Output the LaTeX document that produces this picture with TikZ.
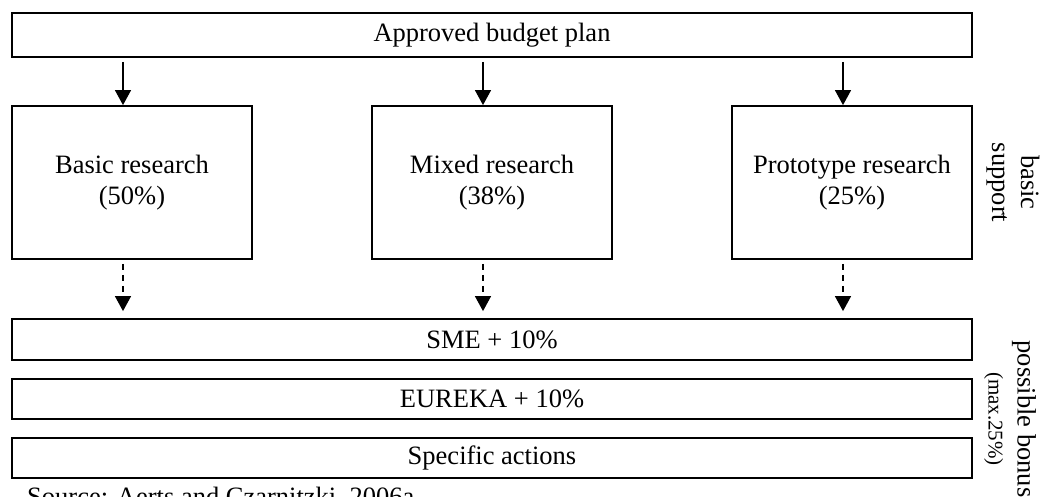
\documentclass[tikz,border=0pt]{standalone}
\usepackage{fontspec}
\setmainfont{Liberation Serif}
\usetikzlibrary{arrows.meta,calc}
\begin{document}
\begin{tikzpicture}[x=1pt,y=-1pt,
  box/.style={draw,line width=1.8pt,inner sep=0pt,align=center,
    font=\fontsize{26.5}{31}\selectfont},
  wide/.style={box,minimum width=960pt,minimum height=40pt},
  tall/.style={box,minimum width=240pt,minimum height=153pt},
  solidarr/.style={line width=1.3pt,-{Triangle[width=16pt,length=15pt]}},
  dasharr/.style={line width=1.3pt,dash pattern=on 6pt off 5pt,-{Triangle[width=16pt,length=15pt]}},
  side/.style={rotate=-90,align=center,inner sep=0pt,font=\fontsize{26.5}{29}\selectfont}]
\useasboundingbox (0,0) rectangle (1042,497);
\node[wide,minimum height=44pt] (top) at (492,35) {Approved budget plan};
\node[tall] (basic) at (132,182.5) {Basic research\\(50\%)};
\node[tall] (mixed) at (492,182.5) {Mixed research\\(38\%)};
\node[tall] (proto) at (852,182.5) {Prototype research\\(25\%)};
\node[wide,minimum height=41pt] (sme) at (492,339.5) {SME + 10\%};
\node[wide] (eureka) at (492,399) {EUREKA + 10\%};
\node[wide] (spec) at (492,458) {Specific actions};
\foreach \b in {basic,mixed,proto}{
  \draw[solidarr] ($(top.south -| \b.north)+(-9,4)$) -- ($(\b.north)+(-9,0)$);
  \draw[dasharr] ($(\b.south)+(-9,4)$) -- ($(sme.north -| \b.north)+(-9,-7)$);
}
\node[side] (bs) at (1013,182.5) {basic\\support};
\node[side] (pb) at (1010,419) {possible bonus\\{\fontsize{21}{28}\selectfont(max.25\%)}};
\node[anchor=base west,inner sep=0pt,font=\fontsize{26.5}{31}\selectfont] (src) at (27,505) {Source: Aerts and Czarnitzki, 2006a};
\end{tikzpicture}
\end{document}
